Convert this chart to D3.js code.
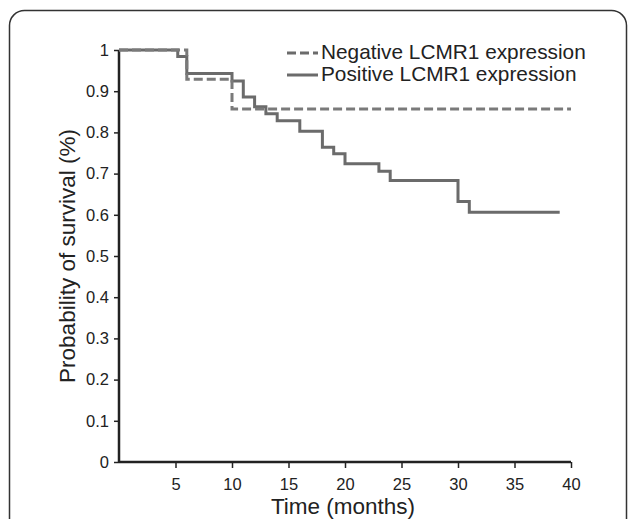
<!DOCTYPE html>
<html>
<head>
<meta charset="utf-8">
<script src="https://cdn.jsdelivr.net/npm/d3@7"></script>
<style>
  body { margin: 0; background: #fff; }
  text { font-family: "Liberation Sans", Arial, sans-serif; fill: #222; }
</style>
</head>
<body>
<svg id="chart" width="629" height="519"></svg>
<script>
// survival steps (time in months, probability)
var negTimes = [0, 6, 10, 40];
var negSurv  = [1, 0.929, 0.857, 0.857];

var posTimes = [0, 5.2, 6, 10, 11, 12, 13, 14, 16, 18, 19, 20, 23, 24, 30, 31, 39];
var posSurv  = [1, 0.984, 0.943, 0.925, 0.886, 0.862, 0.845, 0.828, 0.803, 0.764, 0.748, 0.724, 0.706, 0.683, 0.632, 0.606, 0.606];

var xTicks = [5, 10, 15, 20, 25, 30, 35, 40];
var yTicks = [0, 0.1, 0.2, 0.3, 0.4, 0.5, 0.6, 0.7, 0.8, 0.9, 1];

var seriesNames = ["Negative LCMR1 expression", "Positive LCMR1 expression"];

function drawChart() {
	var svg = d3.select('#chart');

	// rounded frame, runs off the bottom of the picture
	svg.append('rect')
	.attr('x', 9.5).attr('y', 10.5)
	.attr('width', 617).attr('height', 560)
	.attr('rx', 15).attr('ry', 15)
	.attr('fill', 'none')
	.attr('stroke', '#333')
	.attr('stroke-width', 1.5);

	var x = d3.scaleLinear().domain([0, 40]).range([119, 571]);
	var y = d3.scaleLinear().domain([0, 1]).range([462, 50]);

	var xAxis = svg.append('g')
	.attr('transform', 'translate(0,462)')
	.call(d3.axisBottom(x).tickValues(xTicks).tickSize(6).tickPadding(10).tickFormat(d3.format('d')));

	var yAxis = svg.append('g')
	.attr('transform', 'translate(119,0)')
	.call(d3.axisLeft(y).tickValues(yTicks).tickSize(5).tickPadding(5).tickFormat(function(d) { return d === 0 || d === 1 ? d : d3.format('.1f')(d); }));

	[xAxis, yAxis].forEach(function(ax) {
		ax.select('.domain').attr('stroke', '#222').attr('stroke-width', 2.5);
		ax.selectAll('.tick line').attr('stroke', '#222').attr('stroke-width', 1.5);
		ax.selectAll('.tick text').attr('font-size', '16.5px').attr('fill', '#333')
		.attr('font-family', '"Liberation Sans", Arial, sans-serif');
	});
	xAxis.select('.domain').attr('d', 'M119,0H571');
	yAxis.select('.domain').attr('d', 'M0,50V462');

	var line = d3.line()
	.x(function(d) { return x(d[0]); })
	.y(function(d) { return y(d[1]); })
	.curve(d3.curveStepAfter);

	var neg = d3.zip(negTimes, negSurv);
	var pos = d3.zip(posTimes, posSurv);

	svg.append('path')
	.datum(pos)
	.attr('d', line)
	.attr('fill', 'none')
	.attr('stroke', '#6b6b6b')
	.attr('stroke-width', 3);

	svg.append('path')
	.datum(neg)
	.attr('d', line)
	.attr('fill', 'none')
	.attr('stroke', '#7a7a7a')
	.attr('stroke-width', 3)
	.attr('stroke-dasharray', '9,4');

	// legend
	var legend = svg.append('g').attr('transform', 'translate(287,0)');
	legend.selectAll('line')
	.data(seriesNames)
	.enter()
	.append('line')
	.attr('x1', 0).attr('x2', 31)
	.attr('y1', function(d, i) { return 53 + i * 22; })
	.attr('y2', function(d, i) { return 53 + i * 22; })
	.attr('stroke', '#6b6b6b')
	.attr('stroke-width', 3)
	.attr('stroke-dasharray', function(d, i) { return i === 0 ? '9,4' : null; });

	legend.selectAll('text')
	.data(seriesNames)
	.enter()
	.append('text')
	.attr('x', 34)
	.attr('y', function(d, i) { return 59 + i * 22; })
	.attr('font-size', '20.8px')
	.text(function(d) { return d; });

	svg.append('text')
	.attr('x', 343).attr('y', 514)
	.attr('text-anchor', 'middle')
	.attr('font-size', '22.5px')
	.text('Time (months)');

	svg.append('text')
	.attr('transform', 'translate(75,256) rotate(-90)')
	.attr('text-anchor', 'middle')
	.attr('font-size', '22.5px')
	.text('Probability of survival (%)');
}

drawChart();
</script>
</body>
</html>
